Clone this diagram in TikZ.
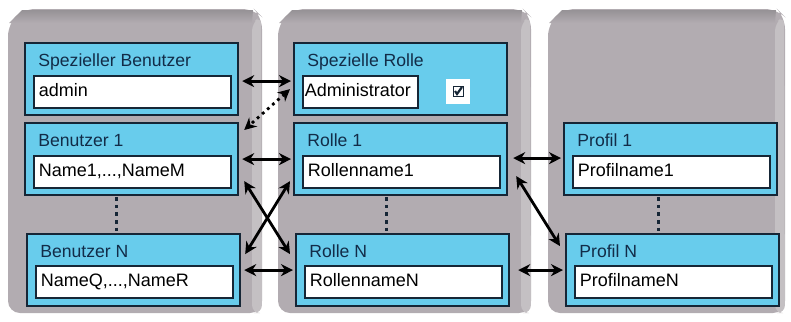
\documentclass[tikz,border=0pt]{standalone}
\usepackage{fontspec}
\setmainfont{Liberation Sans}
\usetikzlibrary{arrows.meta}
\usetikzlibrary{positioning}
\usetikzlibrary{calc}

\definecolor{panelgray}{RGB}{178,172,177}
\definecolor{paneltop}{RGB}{150,146,150}
\definecolor{panelside}{RGB}{196,192,195}
\definecolor{boxcyan}{RGB}{104,204,236}
\definecolor{boxline}{RGB}{22,38,54}
\definecolor{titleblue}{RGB}{18,44,72}

\begin{document}
\begin{tikzpicture}[x=0.5pt, y=-0.5pt,
    entity/.style={draw=boxline, line width=1.1pt, fill=boxcyan, minimum width=106.5pt, minimum height=36pt, anchor=north west, inner sep=0pt},
    field/.style={draw=boxline, line width=0.8pt, fill=white, text width=93.5pt, align=left, minimum height=16pt, anchor=north west, inner sep=2.5pt, text height=6.8pt, text depth=1.8pt, font=\fontsize{9}{10}\selectfont},
    title/.style={anchor=base west, inner sep=0pt, text=titleblue, font=\fontsize{8.8}{10}\selectfont},
    link/.style={line width=1.4pt, {Stealth[length=6pt, width=6pt]}-{Stealth[length=6pt, width=6pt]}},
    gap/.style={line width=1.8pt, dotted, boxline}]

  \useasboundingbox (0,0) rectangle (791,321);

  % the three grey panels
  \foreach \xa/\xb in {8/262, 278/531, 548/785} {
    \fill[panelgray, rounded corners=6pt] (\xa,24) -- (\xa+15,9) -- (\xb-8,9) -- (\xb,17) -- (\xb,313) -- (\xa,313) -- cycle;
    \shade[top color=paneltop, bottom color=panelgray] (\xa+1,23) -- (\xa+14,10) -- (\xb-9,10) -- (\xb-10,23) -- cycle;
    \fill[panelside, rounded corners=4pt] (\xb-10,23) -- (\xb-1,16) -- (\xb,313) -- (\xb-10,313) -- cycle;
  }

  % Benutzer
  \node[entity] (sb) at (24,42) {};
  \node[title] at ($(sb.north west)+(14,24)$) {Spezieller Benutzer};
  \node[field] (sbf) at ($(sb.north west)+(9,33)$) {admin};

  \node[entity] (b1) at (24,122) {};
  \node[title] at ($(b1.north west)+(14,24)$) {Benutzer 1};
  \node[field] (b1f) at ($(b1.north west)+(9,33)$) {Name1,...,NameM};

  \node[entity] (bn) at (26,233) {};
  \node[title] at ($(bn.north west)+(14,24)$) {Benutzer N};
  \node[field] (bnf) at ($(bn.north west)+(9,32)$) {NameQ,...,NameR};

  % Rollen
  \node[entity] (sr) at (293,42) {};
  \node[title] at ($(sr.north west)+(14,24)$) {Spezielle Rolle};
  \node[field, text width=55.5pt, inner sep=1pt] (srf) at ($(sr.north west)+(9,33)$) {Administrator};
  \node[fill=white, minimum width=12pt, minimum height=12.5pt, inner sep=0pt] (cb) at (458,91) {};
  \draw[boxline, line width=0.5pt] ($(cb.center)+(-5,-5)$) rectangle ($(cb.center)+(5,5)$);
  \draw[boxline, line width=1.1pt] ($(cb.center)+(-3,0)$) -- ($(cb.center)+(-1,3)$) -- ($(cb.center)+(4,-4)$);

  \node[entity] (r1) at (293,122) {};
  \node[title] at ($(r1.north west)+(14,24)$) {Rolle 1};
  \node[field] (r1f) at ($(r1.north west)+(9,33)$) {Rollenname1};

  \node[entity] (rn) at (295,233) {};
  \node[title] at ($(rn.north west)+(14,24)$) {Rolle N};
  \node[field] (rnf) at ($(rn.north west)+(9,32)$) {RollennameN};

  % Profile
  \node[entity] (p1) at (563,122) {};
  \node[title] at ($(p1.north west)+(14,24)$) {Profil 1};
  \node[field] (p1f) at ($(p1.north west)+(9,33)$) {Profilname1};

  \node[entity] (pn) at (565,233) {};
  \node[title] at ($(pn.north west)+(14,24)$) {Profil N};
  \node[field] (pnf) at ($(pn.north west)+(9,32)$) {ProfilnameN};

  % dotted gaps between 1 and N
  \draw[gap] ($(b1.south)+(-15,1)$) -- ($(bn.north)+(-17,-1)$);
  \draw[gap] ($(r1.south)+(-14,1)$) -- ($(rn.north)+(-16,-1)$);
  \draw[gap] ($(p1.south)+(-12,1)$) -- ($(pn.north)+(-14,-1)$);

  % links
  \draw[link] ($(sb.east)+(3,2)$) -- ($(sr.west)+(-2,2)$);
  \draw[link, dotted] ($(sr.west)+(-3,10)$) -- ($(b1.north east)+(5,8)$);
  \draw[link] ($(b1.east)+(3,0)$) -- ($(r1.west)+(-2,0)$);
  \draw[link] ($(b1.east)+(5,22)$) -- ($(rn.west)+(-5,-16)$);
  \draw[link] ($(bn.east)+(4,-16)$) -- ($(r1.west)+(-3,22)$);
  \draw[link] ($(bn.east)+(3,0)$) -- ($(rn.west)+(-2,0)$);
  \draw[link] ($(r1.east)+(5,-1)$) -- ($(p1.west)+(-2,-1)$);
  \draw[link] ($(r1.east)+(8,17)$) -- ($(pn.west)+(-5,-24)$);
  \draw[link] ($(rn.east)+(8,0)$) -- ($(pn.west)+(-2,0)$);

\end{tikzpicture}
\end{document}
